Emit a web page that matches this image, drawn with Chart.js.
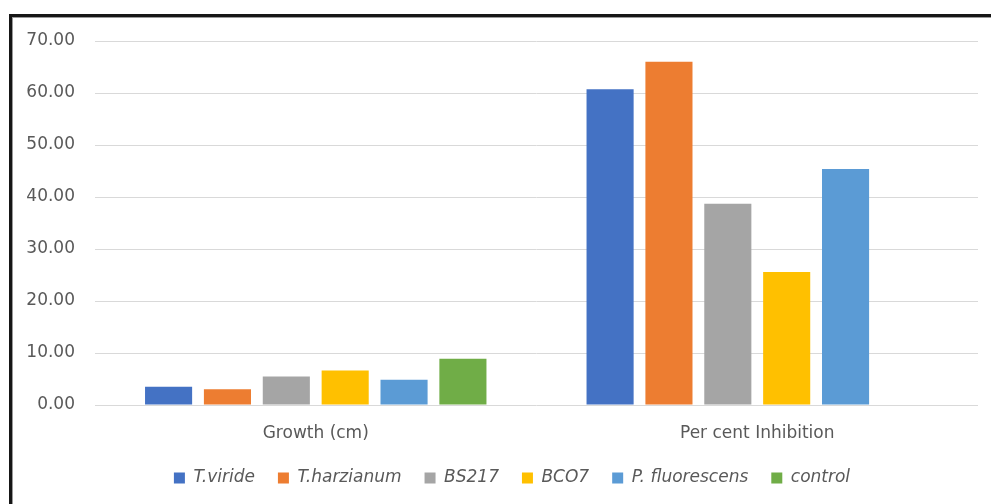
<!DOCTYPE html>
<html>
<head>
<meta charset="utf-8">
<script src="https://cdn.jsdelivr.net/npm/chart.js@4.4.1/dist/chart.umd.min.js"></script>
<style>
  html, body { margin: 0; padding: 0; background: #ffffff; }
  #wrap { position: relative; width: 991px; height: 504px; overflow: hidden; }
  #chart { position: absolute; left: 0; top: 0; }
  /* frame line along the left and top edges */
  #frame {
    position: absolute; left: 9px; top: 14px; width: 1200px; height: 800px;
    border-left: 3px solid #161616; border-top: 3px solid #161616;
    box-shadow: inset 1px 1px 0 #9a9a9a;
    pointer-events: none;
  }
</style>
</head>
<body>
<div id="wrap">
  <canvas id="chart" width="991" height="504"></canvas>
  <div id="frame"></div>
</div>
<script>
// Categories on the x axis
const categories = ['Growth (cm)', 'Per cent Inhibition'];

// One series per treatment: [growth in cm, per cent inhibition]
const seriesNames = ['T.viride', 'T.harzianum', 'BS217', 'BCO7', 'P. fluorescens', 'control'];
const tViride      = [3.50, 60.7];
const tHarzianum   = [3.03, 66.0];
const bs217        = [5.46, 38.7];
const bco7         = [6.62, 25.6];
const pFluorescens = [4.86, 45.4];
const control      = [8.90, 0];

// Y axis tick values
const yTicks = [0, 10, 20, 30, 40, 50, 60, 70];

const seriesValues = [tViride, tHarzianum, bs217, bco7, pFluorescens, control];
const seriesColors = ['#4472C4', '#ED7D31', '#A5A5A5', '#FFC000', '#5B9BD5', '#70AD47'];

const FONT = 'DejaVu Sans';
const TEXT = '#595959';

// Shifts the legend row so it is centred on the plot rather than the canvas
const legendShift = {
  id: 'legendShift',
  beforeDraw(chart) {
    if (chart.legend) chart.legend.left = 46;
  }
};

new Chart(document.getElementById('chart'), {
  type: 'bar',
  data: {
    labels: categories,
    datasets: seriesNames.map((name, i) => ({
      label: name,
      data: seriesValues[i],
      backgroundColor: seriesColors[i],
      borderWidth: 0,
      categoryPercentage: 0.8,
      barPercentage: 0.8
    }))
  },
  options: {
    responsive: false,
    animation: false,
    layout: { padding: { left: 0, right: 13, top: 41, bottom: 7.5 } },
    scales: {
      x: {
        grid: { display: false },
        border: { display: false },
        ticks: { color: TEXT, font: { family: FONT, size: 17 }, padding: 10 },
        afterFit: s => { s.height = 41.5; }
      },
      y: {
        min: 0,
        max: 70,
        afterBuildTicks: s => { s.ticks = yTicks.map(v => ({ value: v })); },
        grid: { color: '#D9D9D9', lineWidth: 1, drawTicks: false },
        border: { display: false },
        ticks: {
          color: TEXT,
          font: { family: FONT, size: 17 },
          padding: 20,
          callback: v => Number(v).toFixed(2)
        },
        afterFit: s => { s.width = 95; }
      }
    },
    plugins: {
      legend: {
        position: 'bottom',
        labels: {
          color: TEXT,
          font: { family: FONT, size: 17, style: 'italic' },
          boxWidth: 11,
          boxHeight: 11,
          padding: 23
        }
      },
      tooltip: { enabled: false }
    }
  },
  plugins: [legendShift]
});
</script>
</body>
</html>
